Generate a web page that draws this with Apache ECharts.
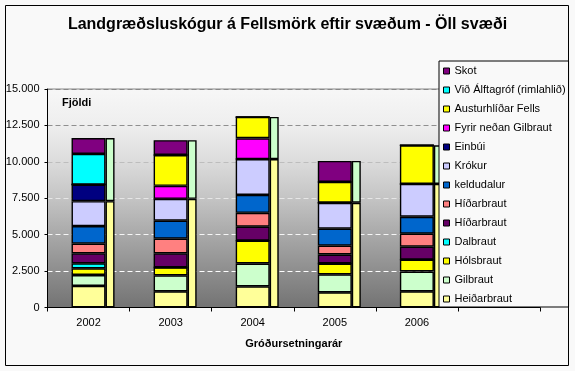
<!DOCTYPE html>
<html><head><meta charset="utf-8">
<script src="https://cdn.jsdelivr.net/npm/echarts@6/dist/echarts.min.js"></script>
<style>html,body{margin:0;padding:0;background:#f9f9f9}#c{width:575px;height:371px}</style>
</head><body><div id="c"></div>
<script>
// ---- data ----
const years = ['2002', '2003', '2004', '2005', '2006', ''];
const heidarbraut      = [1480, 1110, 1450, 1040, 1110];
const gilbraut         = [750, 1090, 1570, 1230, 1360];
const holsbraut        = [460, 550, 1570, 750, 820];
const dalbraut         = [340, 0, 0, 0, 0];
const hidarbrautPurple = [680, 960, 960, 620, 890];
const hidarbrautSalmon = [680, 1020, 950, 610, 890];
const keldudalur       = [1200, 1230, 1230, 1160, 1160];
const krokur           = [1710, 1500, 2460, 1780, 2250];
const einbui           = [1140, 0, 0, 0, 0];
const fyrirNedan       = [0, 890, 1430, 0, 0];
const austurhlidar     = [0, 2120, 1460, 1430, 2660];
const vidAlftagrof     = [2100, 0, 0, 0, 0];
const skot             = [1090, 1020, 0, 1440, 0];
const sideLower        = [7300, 7460, 10190, 7190, 8480];
const sideUpper        = [4330, 4030, 2890, 2870, 2660];
const yTickLabels = ['0', '2.500', '5.000', '7.500', '10.000', '12.500', '15.000'];

const FONT = "'Liberation Sans', Arial, sans-serif";

// stacking order bottom -> top
const mainSeries = [
  ['Heiðarbraut', heidarbraut, '#FFFF99'],
  ['Gilbraut', gilbraut, '#CCFFCC'],
  ['Hólsbraut', holsbraut, '#FFFF00'],
  ['Dalbraut', dalbraut, '#00FFFF'],
  ['Híðarbraut ', hidarbrautPurple, '#660066'],
  ['Híðarbraut', hidarbrautSalmon, '#FF8080'],
  ['keldudalur', keldudalur, '#0066CC'],
  ['Krókur', krokur, '#CCCCFF'],
  ['Einbúi', einbui, '#000080'],
  ['Fyrir neðan Gilbraut', fyrirNedan, '#FF00FF'],
  ['Austurhlíðar Fells', austurhlidar, '#FFFF00'],
  ['Við Álftagróf (rimlahlið)', vidAlftagrof, '#00FFFF'],
  ['Skot', skot, '#800080']
];

const series = [];
series.push({ name: '_pad', type: 'bar', stack: 'pad', barWidth: 9, barGap: '0%', data: [] });
mainSeries.forEach(([name, data, color]) => {
  series.push({
    name, type: 'bar', stack: 'main', barWidth: 34, barGap: '0%', data,
    itemStyle: { color, borderColor: '#000', borderWidth: 1.4 }
  });
});
series.push({ name: '_sideLower', type: 'bar', stack: 'side', barWidth: 9, barGap: '0%', data: sideLower,
  itemStyle: { color: '#FFFF99', borderColor: '#000', borderWidth: 1.4 } });
series.push({ name: '_sideUpper', type: 'bar', stack: 'side', barWidth: 9, barGap: '0%', data: sideUpper,
  itemStyle: { color: '#CCFFCC', borderColor: '#000', borderWidth: 1.4 } });

const chart = echarts.init(document.getElementById('c'), null, { renderer: 'canvas' });
chart.setOption({
  animation: false,
  backgroundColor: '#f9f9f9',
  textStyle: { fontFamily: FONT },
  title: {
    text: 'Landgræðsluskógur á Fellsmörk eftir svæðum - Öll svæði',
    left: 'center', top: 17, padding: 0,
    textStyle: { fontSize: 16, fontWeight: 'bold', color: '#000', fontFamily: FONT }
  },
  legend: {
    orient: 'vertical', left: 439, top: 61,
    padding: [4, 3, 2, 4],
    itemWidth: 6, itemHeight: 6, itemGap: 7,
    backgroundColor: '#f9f9f9', borderColor: '#000', borderWidth: 1,
    icon: 'rect',
    itemStyle: { borderColor: '#000', borderWidth: 1 },
    textStyle: { fontSize: 11, color: '#000', lineHeight: 12, fontFamily: FONT },
    selectedMode: false,
    data: mainSeries.map(s => s[0]).reverse()
  },
  grid: {
    left: 47.5, right: 35, top: 89, bottom: 63.5,
    show: true, borderColor: '#888', borderWidth: 1,
    backgroundColor: {
      type: 'linear', x: 0, y: 0, x2: 0, y2: 1,
      colorStops: [
        { offset: 0, color: '#f7f7f7' },
        { offset: 0.17, color: '#eeeeee' },
        { offset: 0.33, color: '#dcdcdc' },
        { offset: 0.5, color: '#c4c4c4' },
        { offset: 0.67, color: '#a8a8a8' },
        { offset: 0.83, color: '#8e8e8e' },
        { offset: 1, color: '#737373' }
      ]
    }
  },
  xAxis: {
    type: 'category', data: years,
    axisLine: { lineStyle: { color: '#000', width: 1 } },
    axisTick: { show: true, interval: 0, length: 4, lineStyle: { color: '#000' } },
    axisLabel: { color: '#000', fontSize: 11, margin: 10, interval: 0, fontFamily: FONT },
    name: 'Gróðursetningarár', nameLocation: 'middle', nameGap: 31,
    nameTextStyle: { color: '#000', fontSize: 11, fontWeight: 'bold', fontFamily: FONT },
    splitLine: { show: false }
  },
  yAxis: {
    type: 'value', min: 0, max: 15000, interval: 2500,
    axisLine: { show: true, lineStyle: { color: '#000', width: 1 } },
    axisTick: { show: true, length: 3, lineStyle: { color: '#000' } },
    axisLabel: { color: '#000', fontSize: 11, margin: 8, fontFamily: FONT,
      formatter: v => yTickLabels[Math.round(v / 2500)] },
    splitLine: { show: true, lineStyle: {
      color: ['#ffffff', '#ffffff', '#f6f6f6', '#e6e6e6', '#bdbdbd', '#8f8f8f', '#888888'],
      type: [5, 3], width: 1 } }
  },
  graphic: [
    { type: 'text', left: 62, top: 97, silent: true,
      style: { text: 'Fjöldi', fontSize: 11, fontWeight: 'bold', fill: '#000', font: "bold 11px 'Liberation Sans', Arial, sans-serif" } },
    { type: 'rect', silent: true, z: 100,
      shape: { x: 5.5, y: 5.5, width: 563, height: 360 },
      style: { fill: 'none', stroke: '#000', lineWidth: 1 } }
  ],
  series
});
</script></body></html>
